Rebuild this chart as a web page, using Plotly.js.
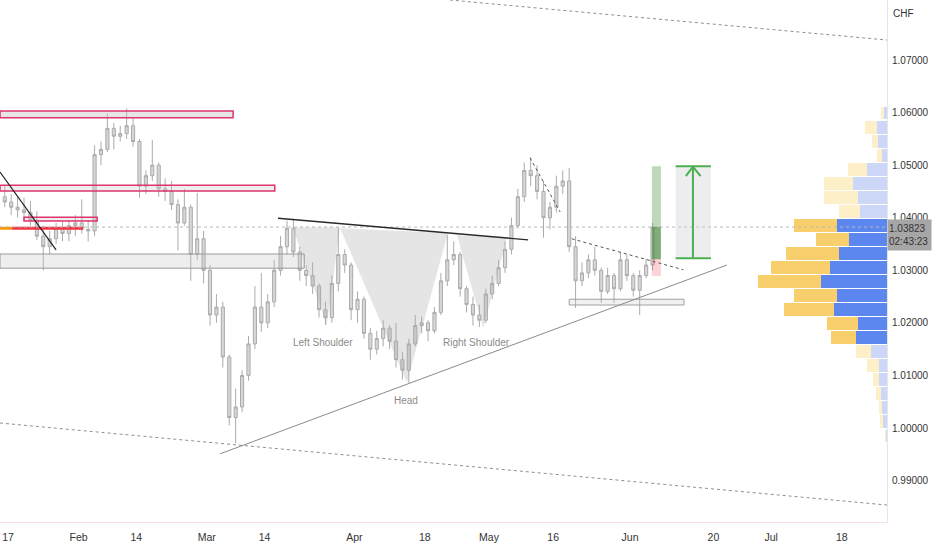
<!DOCTYPE html>
<html>
<head>
<meta charset="utf-8">
<script src="https://cdn.plot.ly/plotly-3.0.1.min.js"></script>
<style>html,body{margin:0;padding:0;background:#fff;}#chart{width:932px;height:550px;}</style>
</head>
<body>
<div id="chart"></div>
<script>
// ---------- DATA ----------
const dates = ['2022-01-14','2022-01-17','2022-01-18','2022-01-19','2022-01-20','2022-01-21','2022-01-24','2022-01-25','2022-01-26','2022-01-27','2022-01-28','2022-01-31','2022-02-01','2022-02-02','2022-02-03','2022-02-04','2022-02-07','2022-02-08','2022-02-09','2022-02-10','2022-02-11','2022-02-14','2022-02-15','2022-02-16','2022-02-17','2022-02-18','2022-02-21','2022-02-22','2022-02-23','2022-02-24','2022-02-25','2022-02-28','2022-03-01','2022-03-02','2022-03-03','2022-03-04','2022-03-07','2022-03-08','2022-03-09','2022-03-10','2022-03-11','2022-03-14','2022-03-15','2022-03-16','2022-03-17','2022-03-18','2022-03-21','2022-03-22','2022-03-23','2022-03-24','2022-03-25','2022-03-28','2022-03-29','2022-03-30','2022-03-31','2022-04-01','2022-04-04','2022-04-05','2022-04-06','2022-04-07','2022-04-08','2022-04-11','2022-04-12','2022-04-13','2022-04-14','2022-04-15','2022-04-18','2022-04-19','2022-04-20','2022-04-21','2022-04-22','2022-04-25','2022-04-26','2022-04-27','2022-04-28','2022-04-29','2022-05-02','2022-05-03','2022-05-04','2022-05-05','2022-05-06','2022-05-09','2022-05-10','2022-05-11','2022-05-12','2022-05-13','2022-05-16','2022-05-17','2022-05-18','2022-05-19','2022-05-20','2022-05-23','2022-05-24','2022-05-25','2022-05-26','2022-05-27','2022-05-30','2022-05-31','2022-06-01','2022-06-02','2022-06-03','2022-06-06'];
const opens  = [1.0440,1.0430,1.0420,1.0415,1.0410,1.0395,1.0365,1.0345,1.0360,1.0380,1.0370,1.0385,1.0390,1.0378,1.0375,1.0520,1.0530,1.0570,1.0555,1.0560,1.0575,1.0545,1.0460,1.0480,1.0500,1.0455,1.0450,1.0425,1.0390,1.0420,1.0330,1.0360,1.0300,1.0215,1.0230,1.0135,1.0020,1.0040,1.0100,1.0160,1.0230,1.0200,1.0240,1.0300,1.0345,1.0380,1.0335,1.0300,1.0290,1.0270,1.0225,1.0210,1.0275,1.0330,1.0310,1.0225,1.0245,1.0180,1.0150,1.0170,1.0190,1.0165,1.0130,1.0110,1.0160,1.0195,1.0200,1.0185,1.0220,1.0280,1.0320,1.0330,1.0265,1.0235,1.0215,1.0205,1.0255,1.0275,1.0305,1.0340,1.0385,1.0440,1.0490,1.0480,1.0450,1.0400,1.0420,1.0460,1.0470,1.0345,1.0280,1.0295,1.0320,1.0300,1.0260,1.0290,1.0265,1.0320,1.0290,1.0262,1.0290,1.0310];
const highs  = [1.0460,1.0445,1.0440,1.0438,1.0432,1.0412,1.0385,1.0375,1.0390,1.0392,1.0395,1.0405,1.0435,1.0395,1.0538,1.0545,1.0598,1.0580,1.0575,1.0608,1.0590,1.0550,1.0490,1.0548,1.0505,1.0475,1.0470,1.0435,1.0455,1.0425,1.0447,1.0375,1.0310,1.0255,1.0240,1.0140,1.0075,1.0110,1.0175,1.0270,1.0295,1.0255,1.0320,1.0365,1.0395,1.0398,1.0345,1.0310,1.0315,1.0275,1.0240,1.0290,1.0380,1.0340,1.0315,1.0260,1.0250,1.0190,1.0185,1.0205,1.0195,1.0200,1.0145,1.0170,1.0215,1.0212,1.0205,1.0230,1.0295,1.0367,1.0355,1.0335,1.0270,1.0250,1.0235,1.0265,1.0290,1.0320,1.0355,1.0400,1.0455,1.0505,1.0515,1.0500,1.0470,1.0430,1.0480,1.0490,1.0495,1.0365,1.0315,1.0330,1.0345,1.0305,1.0305,1.0295,1.0335,1.0330,1.0295,1.0300,1.0322,1.0390];
const lows   = [1.0420,1.0405,1.0400,1.0395,1.0385,1.0358,1.0300,1.0330,1.0350,1.0355,1.0355,1.0365,1.0370,1.0355,1.0365,1.0500,1.0525,1.0530,1.0545,1.0550,1.0535,1.0438,1.0445,1.0470,1.0440,1.0432,1.0415,1.0338,1.0385,1.0280,1.0320,1.0275,1.0195,1.0200,1.0115,1.0005,0.9971,1.0030,1.0090,1.0150,1.0183,1.0190,1.0230,1.0290,1.0330,1.0325,1.0280,1.0270,1.0255,1.0210,1.0196,1.0200,1.0260,1.0295,1.0205,1.0200,1.0170,1.0130,1.0140,1.0155,1.0150,1.0115,1.0092,1.0086,1.0155,1.0180,1.0165,1.0180,1.0215,1.0270,1.0310,1.0250,1.0220,1.0195,1.0192,1.0200,1.0245,1.0270,1.0295,1.0330,1.0380,1.0430,1.0460,1.0435,1.0362,1.0378,1.0410,1.0445,1.0335,1.0228,1.0270,1.0285,1.0290,1.0238,1.0255,1.0238,1.0260,1.0280,1.0250,1.0215,1.0285,1.0300];
const closes = [1.0430,1.0420,1.0415,1.0410,1.0395,1.0365,1.0345,1.0360,1.0380,1.0370,1.0385,1.0390,1.0378,1.0375,1.0520,1.0530,1.0570,1.0555,1.0560,1.0575,1.0545,1.0460,1.0480,1.0500,1.0455,1.0450,1.0425,1.0390,1.0420,1.0330,1.0360,1.0300,1.0215,1.0230,1.0135,1.0020,1.0040,1.0100,1.0160,1.0230,1.0200,1.0240,1.0300,1.0345,1.0380,1.0335,1.0300,1.0290,1.0270,1.0225,1.0210,1.0275,1.0330,1.0310,1.0225,1.0245,1.0180,1.0150,1.0170,1.0190,1.0165,1.0130,1.0110,1.0160,1.0195,1.0200,1.0185,1.0220,1.0280,1.0320,1.0330,1.0265,1.0235,1.0215,1.0205,1.0255,1.0275,1.0305,1.0340,1.0385,1.0440,1.0490,1.0480,1.0450,1.0400,1.0420,1.0460,1.0470,1.0345,1.0280,1.0295,1.0320,1.0300,1.0260,1.0290,1.0265,1.0320,1.0290,1.0262,1.0290,1.0310,1.0382];

const lastPrice = 1.03823;
const countdown = '02:43:23';

// volume profile rows (price level of each row, up volume, down volume)
const vpLevels = [1.05992,1.05725,1.05458,1.05191,1.04924,1.04657,1.04390,1.04122,1.03855,1.03588,1.03321,1.03054,1.02787,1.02520,1.02253,1.01986,1.01719,1.01452,1.01185,1.00918,1.00651,1.00383,1.00116,0.99849];
const vpUp   = [3.3,10,9,5,20,34,29,27,50,38,48,57,66,50,53,29,31,16,8,8,6,5,4,1];
const vpDown = [2.7,11.7,6,5,19,28.7,33.7,21,43,33,52.7,59,63,43,50,31,25,15,12,6,5,3,3,1];
const valueAreaLow = 1.0165, valueAreaHigh = 1.0395;

const tickDates  = ['2022-01-17','2022-02-01','2022-02-14','2022-03-01','2022-03-14','2022-04-01','2022-04-18','2022-05-02','2022-05-16','2022-06-01','2022-06-20','2022-07-01','2022-07-18'];
const tickLabels = ['17','Feb','14','Mar','14','Apr','18','May','16','Jun','20','Jul','18'];
const priceTicks = [0.99,1.00,1.01,1.02,1.03,1.04,1.05,1.06,1.07];

// ---------- helpers ----------
function td(s){ // trading-day index (weekdays) from 2022-01-17
  const d = Date.parse(s+'T00:00:00Z'), base = Date.UTC(2022,0,17);
  const days = Math.round((d-base)/86400000);
  const w = Math.floor(days/7), r = days - w*7;
  return w*5 + Math.min(r,5);
}
const X0 = -1.247, X1 = 137.06, Y0 = 0.98212, Y1 = 1.08142;
const FONT = 'Liberation Sans, Arial, sans-serif';

const candleX = dates.map(d => td(d)+0.5);

const candle = {
  type:'candlestick', x:candleX, open:opens, high:highs, low:lows, close:closes,
  increasing:{line:{color:'#ababab',width:1},fillcolor:'#d6d6d6'},
  decreasing:{line:{color:'#ababab',width:1},fillcolor:'#d6d6d6'},
  whiskerwidth:0, hoverinfo:'skip', showlegend:false, xaxis:'x', yaxis:'y'
};

const inVA = vpLevels.map(p => p>=valueAreaLow && p<=valueAreaHigh);
const vpBlue = {
  type:'bar', orientation:'h', y:vpLevels, x:vpUp, width:0.00245,
  marker:{color:inVA.map(v=>v?'#5b87ee':'#cdd8f8'), line:{width:0}},
  xaxis:'x2', yaxis:'y', showlegend:false, hoverinfo:'skip'
};
const vpYellow = {
  type:'bar', orientation:'h', y:vpLevels, x:vpDown, width:0.00245,
  marker:{color:inVA.map(v=>v?'#f8cf6c':'#fdefc8'), line:{width:0}},
  xaxis:'x2', yaxis:'y', showlegend:false, hoverinfo:'skip'
};

// ---------- drawings ----------
const pink = '#e0336f';
const shapes = [
  {type:'line',x0:X0,y0:1.00095,x1:X1,y1:0.98535,line:{color:'#8f8f8f',width:1,dash:'dot'}},
  {type:'line',x0:68.9,y0:Y1,x1:X1,y1:1.0738,line:{color:'#8f8f8f',width:1,dash:'dot'}},
  {type:'rect',x0:X0,x1:35.1,y0:1.0590,y1:1.0603,fillcolor:'rgba(200,200,200,0.45)',line:{color:pink,width:1.5}},
  {type:'rect',x0:X0,x1:41.6,y0:1.0451,y1:1.0462,fillcolor:'rgba(200,200,200,0.3)',line:{color:pink,width:1.5}},
  {type:'rect',x0:2.5,x1:13.9,y0:1.0394,y1:1.0401,fillcolor:'rgba(200,200,200,0.3)',line:{color:pink,width:1.5}},
  {type:'rect',x0:X0,x1:46.2,y0:1.0304,y1:1.0331,fillcolor:'rgba(200,200,200,0.3)',line:{color:'#9a9a9a',width:1}},
  {type:'rect',x0:87.5,x1:105.4,y0:1.0234,y1:1.0245,fillcolor:'rgba(200,200,200,0.25)',line:{color:'#a0a0a0',width:1}},
  {type:'line',x0:X0,x1:0.6,y0:1.0380,y1:1.0380,line:{color:'#ff9800',width:3}},
  {type:'line',x0:0.6,x1:11.7,y0:1.0380,y1:1.0380,line:{color:'#f23645',width:3}},
  {type:'line',x0:X0,x1:X1,y0:lastPrice,y1:lastPrice,line:{color:'#b8b8b8',width:1,dash:'dot'}},
  {type:'path',path:'M 44.4 1.0382 L 51.8 1.0382 L 49.7 1.0196 Z',fillcolor:'rgba(170,170,170,0.3)',line:{width:0}},
  {type:'path',path:'M 51.8 1.0380 L 68.6 1.0371 L 62.2 1.0086 Z',fillcolor:'rgba(170,170,170,0.3)',line:{width:0}},
  {type:'path',path:'M 70.0 1.0367 L 77.8 1.0362 L 74.1 1.0190 Z',fillcolor:'rgba(170,170,170,0.3)',line:{width:0}},
  {type:'line',x0:X0,y0:1.0487,x1:7.5,y1:1.0339,line:{color:'#1f1f1f',width:1.2}},
  {type:'line',x0:42.1,y0:1.0399,x1:81.1,y1:1.0358,line:{color:'#2a2a2a',width:1.3}},
  {type:'line',x0:33.1,y0:0.9951,x1:112.1,y1:1.0310,line:{color:'#8a8a8a',width:1}},
  {type:'line',x0:81.4,y0:1.0514,x1:86.1,y1:1.0411,line:{color:'#555',width:1,dash:'dot'}},
  {type:'line',x0:87.9,y0:1.0360,x1:105.3,y1:1.0301,line:{color:'#555',width:1,dash:'dot'}},
  {type:'rect',x0:100.4,x1:101.8,y0:1.0321,y1:1.0498,fillcolor:'rgba(92,160,80,0.4)',line:{width:0}},
  {type:'rect',x0:100.4,x1:101.8,y0:1.0321,y1:lastPrice,fillcolor:'rgba(70,130,60,0.5)',line:{width:0}},
  {type:'rect',x0:100.4,x1:101.8,y0:1.0289,y1:1.0321,fillcolor:'rgba(242,54,69,0.22)',line:{width:0}},
  {type:'rect',x0:104.1,x1:109.6,y0:1.0323,y1:1.0498,fillcolor:'rgba(210,210,215,0.4)',line:{width:0}},
  {type:'line',x0:104.1,x1:109.6,y0:1.0498,y1:1.0498,line:{color:'#4caf50',width:2}},
  {type:'line',x0:104.1,x1:109.6,y0:1.0323,y1:1.0323,line:{color:'#4caf50',width:2}},
  {type:'line',x0:106.8,x1:106.8,y0:1.0323,y1:1.0498,line:{color:'#4caf50',width:2}},
  {type:'path',path:'M 105.7 1.0479 L 106.8 1.0497 L 108.0 1.0479',line:{color:'#4caf50',width:2}}
];
shapes.forEach(s => { s.xref='x'; s.yref='y'; });

const labelFont = {family:FONT, size:10, color:'#8a8a8a'};
const annotations = [
  {x:49.1,y:1.01636,text:'Left Shoulder',showarrow:false,font:labelFont},
  {x:62.1,y:1.00514,text:'Head',showarrow:false,font:labelFont},
  {x:73.1,y:1.01636,text:'Right Shoulder',showarrow:false,font:labelFont},
  {xref:'paper',yref:'y',x:1,y:1.0368,xanchor:'left',yanchor:'middle',align:'left',
   text:lastPrice.toFixed(5)+'<br>'+countdown,showarrow:false,bgcolor:'#a6a6a6',
   width:41,height:28,borderpad:1,font:{family:FONT,size:10,color:'#333'}},
  {xref:'paper',yref:'y',x:1,y:1.0788,xanchor:'left',xshift:4,text:'CHF',showarrow:false,
   font:{family:FONT,size:10,color:'#333'}}
];

const layout = {
  width:932, height:550,
  margin:{l:0,r:45,t:0,b:28,pad:0},
  paper_bgcolor:'#ffffff', plot_bgcolor:'#ffffff',
  showlegend:false, barmode:'stack', dragmode:false,
  xaxis:{type:'linear',range:[X0,X1],showgrid:false,zeroline:false,
    tickvals:tickDates.map(td),ticktext:tickLabels,ticks:'outside',ticklen:5,tickcolor:'rgba(0,0,0,0)',
    tickfont:{family:FONT,size:10.5,color:'#333'},
    showline:true,linecolor:'#f9dfe4',linewidth:1,rangeslider:{visible:false},fixedrange:true},
  xaxis2:{overlaying:'x',anchor:'y',range:[887,0],visible:false,fixedrange:true},
  yaxis:{side:'right',range:[Y0,Y1],showgrid:false,zeroline:false,
    tickvals:priceTicks,ticktext:priceTicks.map(v=>v.toFixed(5)),ticks:'outside',ticklen:2,tickcolor:'rgba(0,0,0,0)',
    tickfont:{family:FONT,size:10,color:'#333'},
    showline:true,linecolor:'#e6e6e6',linewidth:1,fixedrange:true},
  shapes:shapes, annotations:annotations
};

Plotly.newPlot('chart',[candle,vpBlue,vpYellow],layout,{displayModeBar:false,staticPlot:true});
</script>
</body>
</html>
